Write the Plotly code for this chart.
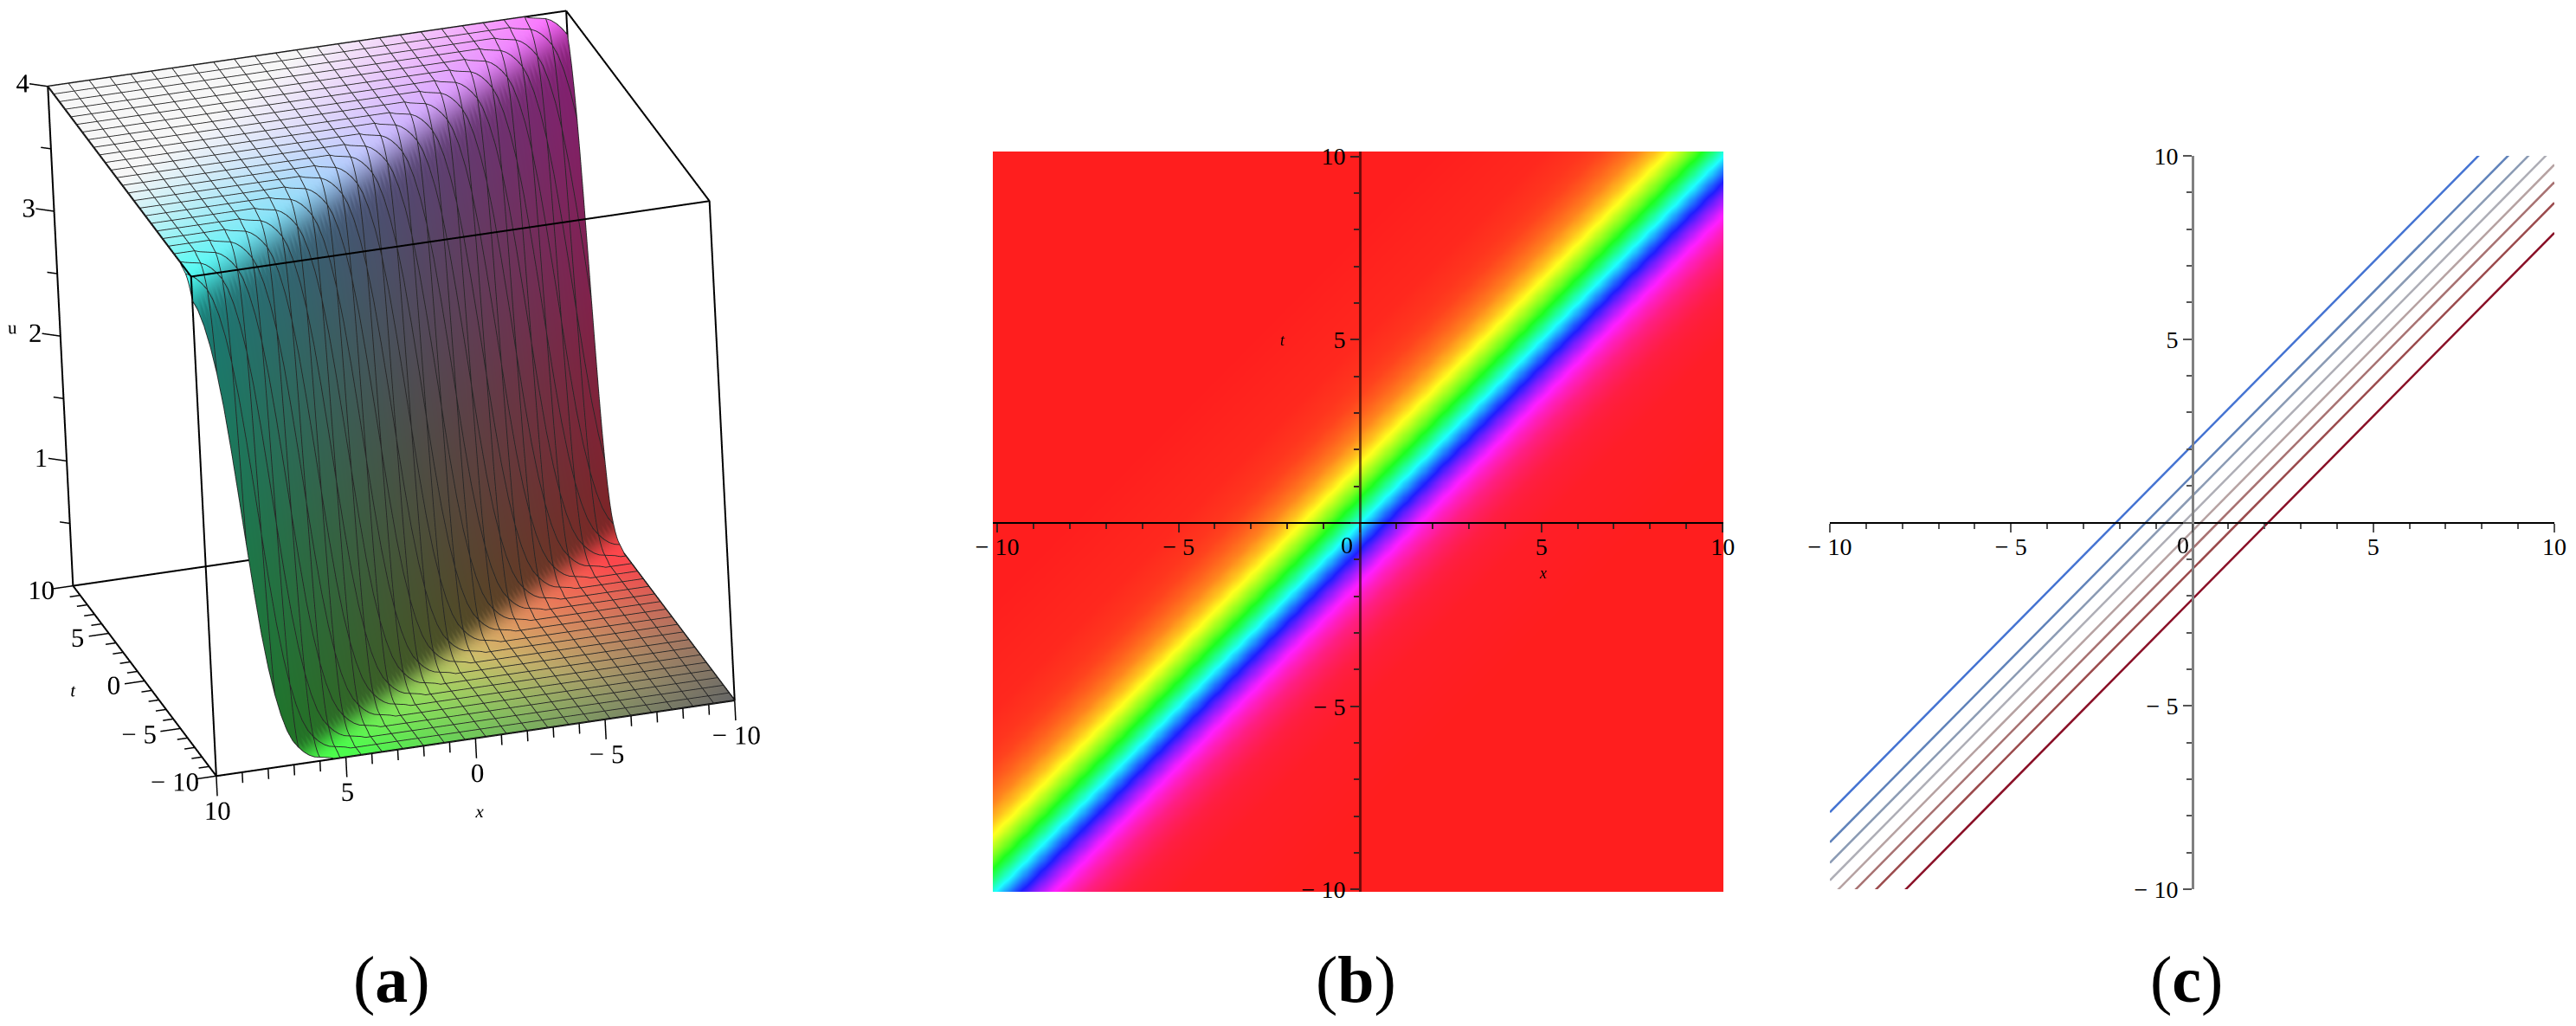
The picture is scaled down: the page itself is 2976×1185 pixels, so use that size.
import numpy as np
import plotly.graph_objects as go

W, H = 2976, 1185
SERIF = "Liberation Serif"

# ---------- data ----------
# panel (a): height u as read along s = x + t
a_s = [-4.5, -4.25, -4.0, -3.75, -3.5, -3.25, -3.0, -2.75, -2.5, -2.25, -2.0, -1.75, -1.5,
       -1.25, -1.0, -0.75, -0.5, -0.25, 0.0, 0.25, 0.5, 0.75, 1.0, 1.25, 1.5]
a_u = [0.01, 0.02, 0.03, 0.04, 0.07, 0.12, 0.19, 0.30, 0.48, 0.73, 1.08, 1.51, 2.00,
       2.49, 2.92, 3.27, 3.52, 3.70, 3.81, 3.88, 3.93, 3.96, 3.97, 3.98, 3.99]
# panel (b): height u as read along s = t - x (hue bands)
b_s = [-8, -7, -6, -5, -4, -3.5, -3, -2.5, -2, -1.5, -1, -0.5, 0, 0.5, 1, 1.5, 2, 2.5, 3, 3.5, 4, 5, 6, 7, 8]
b_u = [0.00, 0.01, 0.02, 0.03, 0.07, 0.11, 0.19, 0.30, 0.48, 0.73, 1.08, 1.51, 2.00,
       2.49, 2.92, 3.27, 3.52, 3.70, 3.81, 3.89, 3.93, 3.97, 3.98, 3.99, 4.00]
# panel (c): each contour is t = x + c
c_offsets = [2.1, 1.28, 0.72, 0.24, -0.24, -0.72, -1.28, -2.1]
c_colors = ["#4473d2", "#5f82ba", "#8b9bb4", "#aeaeb6", "#b6a2a2", "#a87272", "#9b4a4c", "#8a1027"]
major_ticks = [-10, -5, 0, 5, 10]
major_labels = ["\u2212 10", "\u2212 5", "", "5", "10"]
u_ticks = [1, 2, 3, 4]
u_labels = ["1", "2", "3", "4"]

PAGE = 8  # the page's own margin


def fx(px):
    return (px - PAGE) / W


def fy(py):
    return 1 - (py - PAGE) / H


# ---------- panel (a): camera from the box seen in the picture ----------
m1 = np.array([-298.5, 82.5, -14.5])
m2 = np.array([-43.5, -109.5, 287.5])
A = np.array([m1 ** 2, m2 ** 2, m1 * m2])
p = np.linalg.solve(A, [1, 1, 0])
d = 1 / np.sqrt(p)
r1, r2 = m1 / d, m2 / d
view = np.cross(r1, r2)
view = view / np.linalg.norm(view)
EYE_LEN = 3.0
ZOOM = 1.762
asp = d / d.mean() * ZOOM
SHIFT = 0.1
cen = -r2 * SHIFT
eye = view * EYE_LEN + cen

grid = np.linspace(-10, 10, 101)
X, T = np.meshgrid(grid, grid)
Y = -T
U = np.interp(X + T, a_s, a_u)
U = np.where(X + T > 1.5, 4.0, U)
U = np.where(X + T < -4.5, 0.0, U)

D = (X - T) / 2
E = (X + T) / 2
q = (10 + D) / 20


def ramp(c0, c1, c2, qv):
    c0, c1, c2 = map(np.array, (c0, c1, c2))
    qq = qv[..., None]
    return np.where(qq < 0.5, c0 + (c1 - c0) * qq * 2, c1 + (c2 - c1) * (qq - 0.5) * 2)


top = ramp((1.0, 0.40, 1.0), (0.76, 0.76, 1.0), (0.25, 1.0, 0.95), q)
mt = np.clip(E / 5.0, 0, 1)[..., None] ** 0.9
top = top * (1 - mt) + np.array([0.97, 0.97, 0.97]) * mt
q_low = np.clip((q - 0.5) / 0.35 * 0.5 + 0.5, 0, 1)
low = ramp((1.0, 0.28, 0.30), (0.82, 0.74, 0.42), (0.30, 1.0, 0.30), q_low)
ml = np.clip((-E - 2) / 8, 0, 1)[..., None] ** 1.3
low = low * (1 - ml) + np.array([0.40, 0.40, 0.40]) * ml
plateau = np.where((U > 2)[..., None], top, low)
f = U / 4
slope = np.stack([0.10 + 0.42 * (1 - q), 0.12 + 0.36 * q, 0.14 + 0.34 * f], -1)
w = np.minimum(np.clip((3.95 - U) / 0.25, 0, 1), np.clip((U - 0.02) / 0.12, 0, 1))[..., None]
rgb = plateau * (1 - w) + slope * w
rgb = (np.clip(rgb, 0, 1) * 255).astype(int)
vcol = [f"rgb({r},{g},{b})" for r, g, b in rgb.reshape(-1, 3)]

n = len(grid)
idx = np.arange(n * n).reshape(n, n)
ii = np.concatenate([idx[:-1, :-1].ravel(), idx[1:, 1:].ravel()])
jj = np.concatenate([idx[:-1, 1:].ravel(), idx[1:, :-1].ravel()])
kk = np.concatenate([idx[1:, 1:].ravel(), idx[:-1, :-1].ravel()])

fig = go.Figure()
fig.add_trace(go.Mesh3d(x=X.ravel(), y=Y.ravel(), z=U.ravel(), i=ii, j=jj, k=kk,
                        vertexcolor=vcol, flatshading=False, hoverinfo="skip",
                        lighting=dict(ambient=1, diffuse=0, specular=0, roughness=1, fresnel=0),
                        scene="scene"))

# surface grid lines (every 4th row / column), nudged toward the viewer
gx, gy, gz = [], [], []
off = view * 0.05
for k in range(0, n, 4):
    for a, b, c in ((X[k, :], Y[k, :], U[k, :]), (X[:, k], Y[:, k], U[:, k])):
        gx += list(a + off[0]) + [None]
        gy += list(b + off[1]) + [None]
        gz += list(c + off[2] * 0.2) + [None]
fig.add_trace(go.Scatter3d(x=gx, y=gy, z=gz, mode="lines", hoverinfo="skip", scene="scene",
                           line=dict(color="#262626", width=1.8), showlegend=False))

# bounding box
bx, by, bz = [], [], []
c = [(sx, sy, sz) for sx in (-10, 10) for sy in (-10, 10) for sz in (0, 4)]
for i1, p1 in enumerate(c):
    for p2 in c[i1 + 1:]:
        if sum(u1 != u2 for u1, u2 in zip(p1, p2)) == 1:
            bx += [p1[0], p2[0], None]
            by += [p1[1], p2[1], None]
            bz += [p1[2], p2[2], None]
fig.add_trace(go.Scatter3d(x=bx, y=by, z=bz, mode="lines", hoverinfo="skip", scene="scene",
                           line=dict(color="black", width=4), showlegend=False))

# ticks
tx, ty, tz = [], [], []
for v in range(-10, 11):
    L = 0.16 if v % 5 == 0 else 0.085
    tx += [v, v, None]; ty += [10, 10, None]; tz += [0, -L, None]
    L2 = 0.77 if v % 5 == 0 else 0.4
    tx += [10, 10 + L2, None]; ty += [v, v, None]; tz += [0, 0, None]
for v in np.arange(0.5, 4.01, 0.5):
    s = 1.0 if v % 1 == 0 else 0.55
    tx += [10, 10 + 0.57 * s, None]; ty += [-10, -10 - 0.5 * s, None]; tz += [v, v, None]
fig.add_trace(go.Scatter3d(x=tx, y=ty, z=tz, mode="lines", hoverinfo="skip", scene="scene",
                           line=dict(color="black", width=3), showlegend=False))

labfont = dict(family=SERIF, size=31, color="black")
lab3 = [[], [], [], []]
for v, s in zip(major_ticks, ["\u2212 10", "\u2212 5", "0", "5", "10"]):
    lab3[0].append(v); lab3[1].append(10); lab3[2].append(-0.28); lab3[3].append(s)
    # the t axis is printed with 10 at the back of the box
    lab3[0].append(11.2 + (0.4 if v > 0 else 0)); lab3[1].append(v); lab3[2].append(0); lab3[3].append(
        {-10: "10", -5: "5", 0: "0", 5: "\u2212 5", 10: "\u2212 10"}[v])
for v, s in zip(u_ticks, u_labels):
    lab3[0].append(10.8); lab3[1].append(-10.65); lab3[2].append(v); lab3[3].append(s)
fig.add_trace(go.Scatter3d(x=lab3[0], y=lab3[1], z=lab3[2], text=lab3[3], mode="text", hoverinfo="skip",
                           scene="scene", textfont=labfont, textposition="middle center", showlegend=False))
fig.add_trace(go.Scatter3d(x=[0, 12.75], y=[10, 0], z=[-0.6, 0], text=["x", "t"], mode="text", hoverinfo="skip",
                           scene="scene", textposition="middle center", showlegend=False,
                           textfont=dict(family=SERIF, size=21, color="black", style="italic")))
fig.add_trace(go.Scatter3d(x=[11.5], y=[-11.3], z=[2], text=["u"], mode="text", hoverinfo="skip",
                           scene="scene", textposition="middle center", showlegend=False,
                           textfont=dict(family=SERIF, size=21, color="black")))

hidden = dict(visible=False, showgrid=False, zeroline=False, showspikes=False,
              showbackground=False, showticklabels=False, showline=False, title="")
fig.update_layout(scene=dict(
    domain=dict(x=[fx(8), fx(896)], y=[fy(1000), fy(8)]),
    xaxis=dict(range=[-14, 14], **hidden),
    yaxis=dict(range=[-14, 14], **hidden),
    zaxis=dict(range=[-0.8, 4.8], **hidden),
    aspectmode="manual",
    aspectratio=dict(x=float(asp[0]), y=float(asp[1]), z=float(asp[2])),
    camera=dict(projection=dict(type="orthographic"),
                eye=dict(x=float(eye[0]), y=float(eye[1]), z=float(eye[2])),
                up=dict(x=float(r2[0]), y=float(r2[1]), z=float(r2[2])),
                center=dict(x=float(cen[0]), y=float(cen[1]), z=float(cen[2]))),
))

# ---------- panel (b) ----------
bx_grid = np.arange(-10.2, 10.11, 0.1)
by_grid = np.arange(-10.2, 10.21, 0.1)
BX, BY = np.meshgrid(bx_grid, by_grid)
BZ = np.interp(BY - BX, b_s, b_u)
r = "#ff1e1e"
hue = [[0, r], [1 / 6, "#ff1eff"], [2 / 6, "#1e1eff"], [3 / 6, "#1effff"],
       [4 / 6, "#1eff1e"], [5 / 6, "#ffff1e"], [1, r]]
fig.add_trace(go.Heatmap(x=bx_grid, y=by_grid, z=BZ, zmin=0, zmax=4, colorscale=hue, showscale=False,
                         zsmooth="best", hoverinfo="skip", xaxis="x", yaxis="y"))

# ---------- panel (c) ----------
line_x = [-10, 10]
for off_c, col in zip(c_offsets, c_colors):
    fig.add_trace(go.Scatter(x=line_x, y=[v + off_c for v in line_x], mode="lines", hoverinfo="skip",
                             line=dict(color=col, width=2.5), xaxis="x2", yaxis="y2", showlegend=False))


def axis(domain, rng, pos, line_col, line_w, tick_col, standoff=0):
    return dict(domain=domain, range=rng, anchor="free", position=pos, showgrid=False, zeroline=False,
                showline=True, linecolor=line_col, linewidth=line_w, ticks="outside", ticklen=10,
                tickwidth=2, tickcolor=tick_col, tickmode="array", tickvals=major_ticks,
                ticktext=major_labels, tickfont=dict(family=SERIF, size=28, color="black"),
                ticklabelstandoff=standoff,
                minor=dict(ticks="outside", ticklen=6, tickwidth=2, tickcolor=tick_col,
                           tickmode="linear", tick0=-10, dtick=1, showgrid=False),
                layer="above traces", fixedrange=True)


fig.update_layout(
    xaxis=axis([fx(1147), fx(1991)], [-10.12, 10.02], fy(604), "black", 2, "#3a2020", -8),
    yaxis=axis([fy(1030), fy(175)], [-10.06, 10.13], fx(1571), "rgba(40,0,0,0.65)", 3, "#3a2020"),
    xaxis2=axis([fx(2114), fx(2951)], [-10, 10], fy(604), "black", 2, "#555555", -8),
    yaxis2=axis([fy(1027), fy(180)], [-10, 10], fx(2533), "#808080", 3, "#555555"),
    width=W, height=H, autosize=False, margin=dict(l=0, r=0, t=0, b=0, autoexpand=False),
    paper_bgcolor="white", plot_bgcolor="rgba(0,0,0,0)", showlegend=False,
)


def note(px, py, text, size, **kw):
    fig.add_annotation(x=fx(px), y=fy(py), xref="paper", yref="paper", text=text, showarrow=False,
                       xanchor="center", yanchor="middle", font=dict(family=SERIF, size=size, color="black"), **kw)


note(1556, 629, "0", 28)
note(2522, 629, "0", 28)
note(1482, 393, "<i>t</i>", 18)
note(1782, 662, "<i>x</i>", 18)
for cx, ch in ((452, "a"), (1566, "b"), (2526, "c")):
    note(cx, 1131, f"(<b>{ch}</b>)", 76)

fig.write_html("out.html")
